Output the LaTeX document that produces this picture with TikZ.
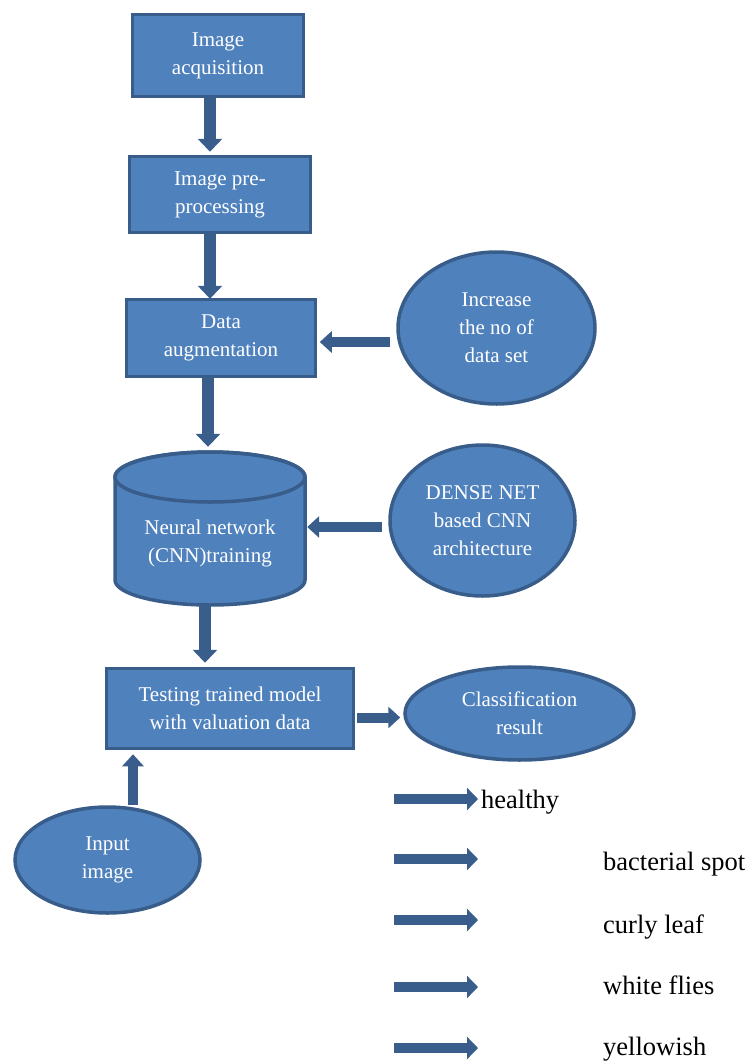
\documentclass[tikz,border=0pt]{standalone}
\usepackage{fontspec}
\setmainfont{Liberation Serif}
\newfontfamily\diagfont{Liberation Serif}
\usetikzlibrary{arrows.meta,shapes.geometric,calc}
\definecolor{boxfill}{HTML}{4F81BD}
\definecolor{boxline}{HTML}{385D8A}
\definecolor{arrowc}{HTML}{3A5E8C}
\begin{document}
\begin{tikzpicture}[x=1pt,y=1pt,
  stepbox/.style={rectangle,draw=boxline,fill=boxfill,line width=3.5pt,inner sep=0pt,align=center,text=white,font=\diagfont\fontsize{21}{28}\selectfont},
  oval/.style={ellipse,draw=boxline,fill=boxfill,line width=3.5pt,inner sep=0pt,align=center,text=white,font=\diagfont\fontsize{21}{28}\selectfont},
  bigarrow/.style={draw=arrowc,line width=12pt,-{Triangle[width=24pt,length=13pt]}},
  midarrow/.style={draw=arrowc,line width=10pt,-{Triangle[width=21pt,length=12pt]}},
  smallarrow/.style={draw=arrowc,line width=9.5pt,-{Triangle[width=22pt,length=11pt]}},
  lbl/.style={anchor=base west,inner sep=0pt,font=\diagfont\fontsize{26.5}{32}\selectfont}]
\useasboundingbox (0,0) rectangle (747,-1063);
% boxes
\node[stepbox,minimum width=171pt,minimum height=82pt] (box1) at (218,-55.5) {Image\\acquisition};
\node[stepbox,minimum width=181pt,minimum height=76pt] (box2) at (220,-194.5) {Image pre-\\processing};
\node[stepbox,minimum width=189pt,minimum height=77pt] (box3) at (221,-338) {Data\\augmentation};
\node[stepbox,minimum width=247pt,minimum height=80pt] (box4) at (230,-708.5) {Testing trained model\\with valuation data};
% ellipses
\node[oval,minimum width=197pt,minimum height=152pt] (ell1) at (496.5,-328) {Increase\\the no of\\data set};
\node[oval,minimum width=185pt,minimum height=151pt] (ell2) at (482.5,-520.5) {DENSE NET\\based CNN\\architecture};
\node[oval,minimum width=229pt,minimum height=93pt] (ell3) at (519.5,-713.5) {Classification\\result};
\node[oval,minimum width=185pt,minimum height=106pt] (inp) at (107.5,-860) {Input\\image};
% cylinder
\filldraw[fill=boxfill,draw=boxline,line width=3.5pt]
  (115,-477) -- (115,-580) arc[start angle=180,end angle=360,x radius=95pt,y radius=25pt]
  -- (305,-477) arc[start angle=0,end angle=180,x radius=95pt,y radius=25pt] -- cycle;
\draw[boxline,line width=3.5pt] (210,-477) ellipse[x radius=95pt,y radius=25pt];
\node[inner sep=0pt,minimum width=190pt,minimum height=153pt] (cnn) at (210,-528.5) {};
\node[align=center,text=white,font=\diagfont\fontsize{21}{28}\selectfont,inner sep=0pt] (cnntext) at (210,-543) {Neural network\\(CNN)training};
% vertical arrows
\draw[bigarrow] ([xshift=-8pt]box1.south) -- ([xshift=-8pt,yshift=3pt]box1.south |- box2.north);
\draw[bigarrow] ([xshift=-10pt]box2.south) -- ([xshift=-10pt,yshift=-1pt]box2.south |- box3.north);
\draw[bigarrow] ([xshift=-13pt]box3.south) -- ([xshift=-13pt,yshift=5pt]box3.south |- cnn.north);
\draw[bigarrow] ([xshift=-5pt]cnn.south) -- ([xshift=-5pt,yshift=4pt]cnn.south |- box4.north);
% horizontal arrows
\draw[midarrow] ([yshift=-14pt,xshift=-6pt]ell1.west) -- ([yshift=-14pt,xshift=2.5pt]ell1.west -| box3.east);
\draw[midarrow] ([yshift=-6.5pt,xshift=-6pt]ell2.west) -- ([xshift=2pt,yshift=-6.5pt]ell2.west -| cnn.east);
\draw[midarrow] ([yshift=-9pt,xshift=2pt]box4.east) -- ([yshift=-9pt,xshift=-3pt]box4.east -| ell3.west);
\draw[midarrow] ([xshift=25.5pt]inp.north) -- ([xshift=25.5pt,yshift=-4pt]inp.north |- box4.south);
% result arrows
\coordinate (s1) at (394,-799); \coordinate (e1) at (478,-799);
\coordinate (s2) at (394,-859); \coordinate (e2) at (478,-859);
\coordinate (s3) at (394,-920); \coordinate (e3) at (478,-920);
\coordinate (s4) at (394,-987); \coordinate (e4) at (478,-987);
\coordinate (s5) at (394,-1048); \coordinate (e5) at (478,-1048);
\foreach \i in {1,...,5} \draw[smallarrow] (s\i) -- (e\i);
\node[lbl] (l1) at (481,-808) {healthy};
\node[lbl] (l2) at (603,-870) {bacterial spot};
\node[lbl] (l3) at (603,-933) {curly leaf};
\node[lbl] (l4) at (603,-994) {white flies};
\node[lbl] (l5) at (603,-1055) {yellowish};
\end{tikzpicture}
\end{document}
